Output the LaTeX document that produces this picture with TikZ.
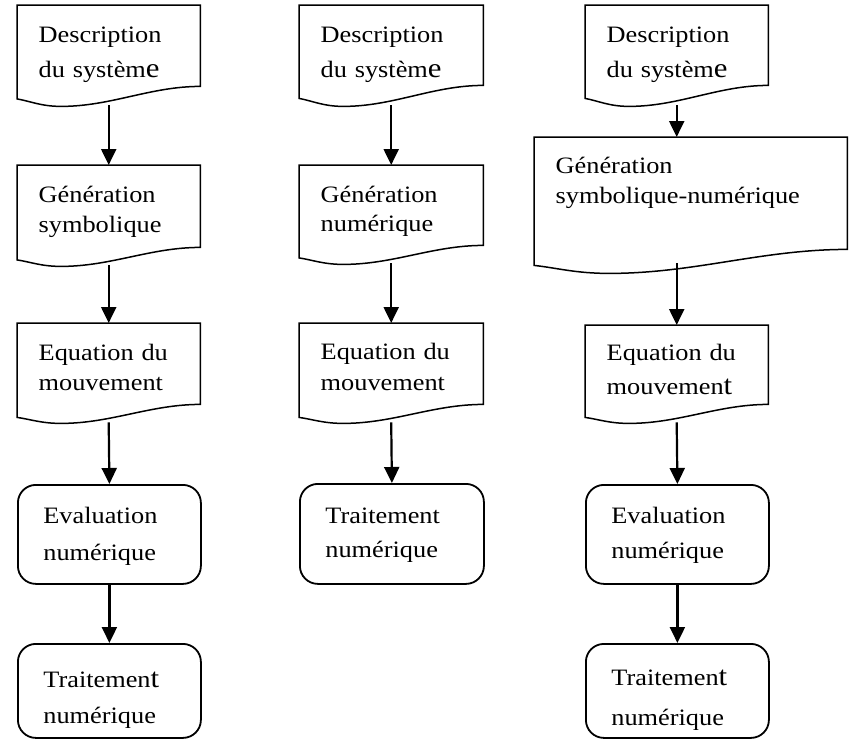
\documentclass[tikz,border=0pt]{standalone}
\usepackage{fontspec}
\setmainfont{Liberation Serif}[FakeStretch=1.12]
\usetikzlibrary{arrows.meta,calc}
\newcommand\fs[1]{\fontsize{23.5pt}{#1pt}\selectfont}
\newcommand\bigc[1]{{\fontsize{27.5pt}{30pt}\selectfont #1}}
\newcommand\docwave[3]{%
  \coordinate (#1-t) at ($(#1.south west)!0.24!(#1.south east)+(0,#3)$);
  \coordinate (#1-l) at ($(#1.south west)+(0,#2)$);
  \draw[docline] (#1.north west) -- (#1.north east) -- (#1.south east)
    .. controls ($(#1.south east)!0.36!(#1-t |- #1.south east)$) and ($(#1-t)!0.36!(#1.south east |- #1-t)$) .. (#1-t)
    .. controls ($(#1-t)!0.45!(#1-l |- #1-t)$) and ($(#1-l)!0.3!(#1-t)$) .. (#1-l) -- cycle;}
\tikzset{
  docbox/.style={anchor=north west, inner xsep=21.5pt, inner ysep=0pt, align=left},
  docline/.style={line width=1.5pt, line join=miter},
  rbox/.style={draw, line width=1.8pt, rounded corners=18pt, anchor=north west,
    inner xsep=25.5pt, inner ysep=0pt, align=left},
  arr/.style={line width=2.2pt, -{Triangle[length=16pt,width=15pt]}},
}
\begin{document}
\begin{tikzpicture}[x=1pt,y=-1pt]
\useasboundingbox (0,0) rectangle (853,739);
% column 1
\node[docbox, text width=140pt, text height=37pt, text depth=44pt, font=\fs{35}] (d1) at (17,5) {Description\\du systèm\bigc{e}};
\node[docbox, text width=140pt, text height=37pt, text depth=45pt, font=\fs{30}] (g1) at (17,165) {Génération\\symbolique};
\node[docbox, text width=140pt, text height=37pt, text depth=44pt, font=\fs{30}] (e1) at (17,323) {Equation du\\mouvement};
\node[rbox, text width=132pt, text height=39pt, text depth=60pt, font=\fs{37}] (v1) at (17,484) {Evaluation\\numérique};
\node[rbox, text width=132pt, text height=44pt, text depth=50pt, font=\fs{36}] (t1) at (17,643) {Traitemen\bigc{t}\\numérique};
% column 2
\node[docbox, text width=141pt, text height=37pt, text depth=43pt, font=\fs{35}] (d2) at (299,5) {Description\\du systèm\bigc{e}};
\node[docbox, text width=141pt, text height=37pt, text depth=43pt, font=\fs{29}] (g2) at (299,165) {Génération\\numérique};
\node[docbox, text width=141pt, text height=36pt, text depth=45pt, font=\fs{31}] (e2) at (299,323) {Equation du\\mouvement};
\node[rbox, text width=133pt, text height=40pt, text depth=60pt, font=\fs{34}] (t2) at (299,483) {Traitement\\numérique};
% column 3
\node[docbox, text width=140pt, text height=37pt, text depth=43pt, font=\fs{35}] (d3) at (585,5) {Description\\du systèm\bigc{e}};
\node[docbox, text width=270pt, text height=36pt, text depth=76pt, font=\fs{30}] (g3) at (534,137) {Génération\\symbolique-numérique};
\node[docbox, text width=140pt, text height=35pt, text depth=44pt, font=\fs{34}] (e3) at (585,325) {Equation du\\mouvemen\bigc{t}};
\node[rbox, text width=132pt, text height=39pt, text depth=60pt, font=\fs{35}] (v3) at (585,484) {Evaluation\\numérique};
\node[rbox, text width=132pt, text height=42pt, text depth=52pt, font=\fs{40}] (t3) at (585,643) {Traitemen\bigc{t}\\numérique};
% document outlines
\docwave{d1}{12.5}{20}
\docwave{g1}{12.5}{19}
\docwave{e1}{13}{19}
\docwave{d2}{13}{21}
\docwave{g2}{12.5}{19}
\docwave{e2}{13}{19}
\docwave{d3}{13}{21}
\docwave{g3}{16}{24}
\docwave{e3}{13}{19}
% connectors
\draw[arr] ($(d1.south)+(0,19)$) -- (g1.north);
\draw[arr] ($(g1.south)+(0,18)$) -- (e1.north);
\draw[arr] ($(e1.south)+(0,18)$) -- (v1.north);
\draw[arr] (v1.south) -- (t1.north);
\draw[arr] ($(d2.south)+(0,20)$) -- (g2.north);
\draw[arr] ($(g2.south)+(0,18)$) -- (e2.north);
\draw[arr] ($(e2.south)+(0,18)$) -- (t2.north);
\draw[arr] ($(d3.south)+(0,20)$) -- (g3.north -| d3.south);
\draw[arr] ($(g3.south -| e3.north)+(0,14)$) -- (e3.north);
\draw[arr] ($(e3.south)+(0,18)$) -- (v3.north);
\draw[arr] (v3.south) -- (t3.north);
\end{tikzpicture}
\end{document}
